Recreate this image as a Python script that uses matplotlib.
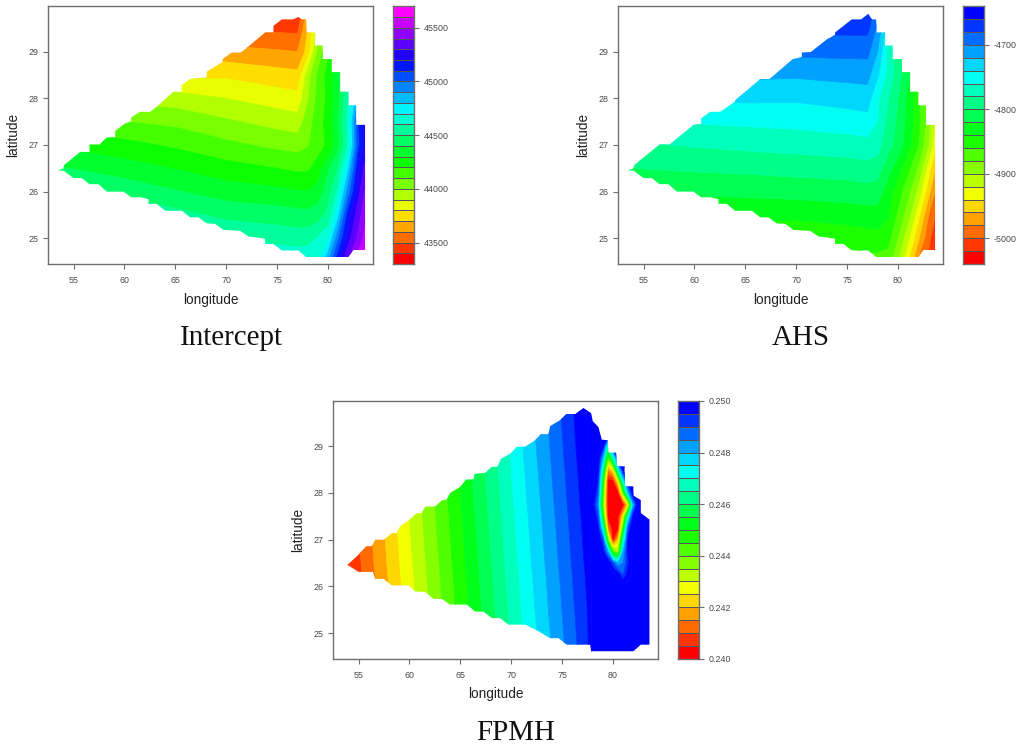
import colorsys
import numpy as np
import matplotlib
matplotlib.use("Agg")
import matplotlib.pyplot as plt
from matplotlib.colors import ListedColormap
from matplotlib.patches import Polygon

plt.rcParams["font.family"] = ["Liberation Sans", "DejaVu Sans"]
plt.rcParams["axes.unicode_minus"] = False

# ---------- data ----------
lat_knots = [24.5, 25, 25.5, 26, 26.5, 27, 27.5, 28, 28.5, 29, 29.5, 30]
lon_knots = [53, 56, 60, 65, 70, 75, 77, 78, 79, 80, 81, 82, 83, 84]

intercept = [
    [44850, 44825, 44800, 44790, 44725, 44685, 44678, 44680, 44690, 44890, 45190, 45410, 45560, 45700],
    [44745, 44720, 44693, 44665, 44600, 44567, 44553, 44560, 44610, 44680, 44980, 45260, 45430, 45600],
    [44635, 44610, 44580, 44536, 44472, 44448, 44433, 44430, 44450, 44530, 44770, 45160, 45360, 45530],
    [44525, 44500, 44466, 44408, 44351, 44326, 44308, 44305, 44342, 44453, 44620, 44950, 45270, 45480],
    [44412, 44388, 44347, 44296, 44240, 44200, 44179, 44185, 44240, 44380, 44500, 44785, 45200, 45400],
    [44290, 44264, 44231, 44183, 44124, 44074, 44061, 44090, 44155, 44220, 44367, 44610, 45075, 45300],
    [44165, 44140, 44100, 44074, 44015, 43960, 43942, 44050, 44150, 44240, 44400, 44630, 45100, 45330],
    [44040, 44010, 43960, 43945, 43900, 43851, 43833, 43985, 44128, 44225, 44360, 44600, 44900, 45200],
    [43900, 43880, 43820, 43770, 43781, 43741, 43728, 43950, 44115, 44240, 44370, 44550, 44800, 45100],
    [43780, 43760, 43700, 43640, 43635, 43611, 43600, 43740, 44020, 44170, 44300, 44500, 44700, 45000],
    [43640, 43620, 43580, 43500, 43490, 43476, 43470, 43700, 43920, 44100, 44250, 44400, 44650, 44950],
    [43500, 43480, 43440, 43360, 43350, 43340, 43340, 43640, 43860, 44050, 44200, 44350, 44600, 44900],
]
ahs = [
    [-4880, -4880, -4876, -4875, -4880, -4872, -4867, -4868, -4870, -4900, -4940, -4985, -5005, -5040],
    [-4860, -4860, -4856, -4856, -4860, -4852, -4849, -4848, -4853, -4881, -4916, -4957, -4995, -5020],
    [-4840, -4838, -4837, -4835, -4834, -4831, -4829, -4828, -4838, -4864, -4892, -4933, -4980, -5010],
    [-4820, -4817, -4816, -4815, -4813, -4810, -4808, -4810, -4830, -4851, -4875, -4907, -4953, -4995],
    [-4801, -4799, -4797, -4795, -4792, -4790, -4787, -4790, -4812, -4831, -4855, -4883, -4930, -4975],
    [-4783, -4781, -4778, -4775, -4772, -4769, -4767, -4772, -4792, -4809, -4833, -4860, -4900, -4950],
    [-4765, -4762, -4758, -4756, -4754, -4750, -4747, -4760, -4786, -4804, -4827, -4854, -4892, -4940],
    [-4745, -4742, -4738, -4736, -4737, -4732, -4730, -4757, -4778, -4800, -4826, -4856, -4890, -4930],
    [-4725, -4722, -4718, -4716, -4717, -4714, -4713, -4737, -4765, -4791, -4815, -4845, -4880, -4920],
    [-4705, -4702, -4698, -4696, -4695, -4694, -4694, -4720, -4764, -4795, -4815, -4840, -4870, -4910],
    [-4685, -4682, -4678, -4676, -4675, -4674, -4674, -4705, -4750, -4780, -4800, -4830, -4860, -4900],
    [-4665, -4662, -4658, -4656, -4655, -4655, -4655, -4690, -4735, -4770, -4790, -4820, -4850, -4890],
]

lat_knots_fpmh = [24.5, 25, 25.5, 26, 26.25, 26.5, 26.75, 27, 27.25, 27.5, 27.75, 28,
                  28.25, 28.5, 28.75, 29, 29.25, 29.5, 30]
lon_knots_fpmh = [53, 55, 60, 65, 70, 75, 77.5, 78, 78.5, 79, 79.5, 80, 80.5, 81, 81.5, 82, 82.5, 84]
fpmh = [
    [.23988, .24064, .24262, .24455, .24649, .24838, .24938, .2502, .2502, .2502, .2502, .2502, .2502, .2502, .2502, .2502, .2502, .2502],
    [.23994, .24070, .24268, .24461, .24655, .24844, .24944, .2502, .2502, .2502, .2502, .2502, .2502, .2502, .2502, .2502, .2502, .2502],
    [.24001, .24077, .24275, .24468, .24662, .24851, .24951, .2502, .2502, .2502, .2502, .2502, .2502, .2502, .2502, .2502, .2502, .2502],
    [.24007, .24083, .24281, .24474, .24668, .24857, .24957, .2502, .2502, .2502, .2502, .2502, .2502, .2502, .2502, .2502, .2502, .2502],
    [.24010, .24086, .24284, .24477, .24671, .24860, .24960, .2502, .2502, .2502, .2502, .2502, .2498, .2490, .2498, .2502, .2502, .2502],
    [.24014, .24090, .24288, .24481, .24675, .24864, .24964, .2502, .2502, .2502, .2502, .2490, .2480, .2485, .2495, .2502, .2502, .2502],
    [.24017, .24093, .24291, .24484, .24678, .24867, .24967, .2502, .2502, .2498, .2480, .2440, .2435, .2480, .2498, .2502, .2502, .2502],
    [.24020, .24096, .24294, .24487, .24681, .24870, .24970, .2502, .2502, .2490, .2440, .2403, .2420, .2465, .2497, .2502, .2502, .2502],
    [.24023, .24099, .24297, .24490, .24684, .24873, .24973, .2502, .2498, .2470, .2415, .2400, .2403, .2445, .2490, .2502, .2502, .2502],
    [.24026, .24102, .24300, .24493, .24687, .24876, .24976, .2502, .2492, .2450, .2402, .2400, .2402, .2425, .2470, .2498, .2502, .2502],
    [.24030, .24106, .24304, .24497, .24691, .24880, .24980, .2498, .2485, .2440, .2400, .2400, .2400, .2402, .2425, .2480, .2502, .2502],
    [.24033, .24109, .24307, .24500, .24694, .24883, .24983, .2502, .2490, .2445, .2400, .2400, .2402, .2440, .2480, .2502, .2502, .2502],
    [.24036, .24112, .24310, .24503, .24697, .24886, .24986, .2502, .2495, .2450, .2402, .2402, .2425, .2470, .2498, .2502, .2502, .2502],
    [.24039, .24115, .24313, .24506, .24700, .24889, .24989, .2502, .2498, .2465, .2415, .2425, .2470, .2498, .2502, .2502, .2502, .2502],
    [.24043, .24119, .24317, .24510, .24704, .24893, .24993, .2502, .2502, .2480, .2440, .2465, .2495, .2502, .2502, .2502, .2502, .2502],
    [.24046, .24122, .24320, .24513, .24707, .24896, .24996, .2502, .2502, .2498, .2465, .2495, .2502, .2502, .2502, .2502, .2502, .2502],
    [.24049, .24125, .24323, .24516, .24710, .24899, .24999, .2502, .2502, .2502, .2502, .2502, .2502, .2502, .2502, .2502, .2502, .2502],
    [.24052, .24128, .24326, .24519, .24713, .24902, .25002, .2502, .2502, .2502, .2502, .2502, .2502, .2502, .2502, .2502, .2502, .2502],
    [.24059, .24135, .24333, .24526, .24720, .24909, .25009, .2502, .2502, .2502, .2502, .2502, .2502, .2502, .2502, .2502, .2502, .2502],
]

# Study-area outline (right side and southern edge shared by the first two maps)
shared_lon = [77.91, 78.73, 78.73, 79.48, 79.48, 80.37, 80.37, 81.19, 81.19, 82.0, 82.0, 82.76, 82.76, 83.64, 83.64,
              82.5, 82.0, 77.85, 77.09, 75.46, 74.64, 73.82, 73.82, 73.0, 72.19, 71.37, 69.73, 68.91, 68.09, 67.27,
              66.46, 65.64, 64.0, 63.18, 62.37, 62.37, 61.55, 60.66, 59.91, 58.27, 57.45, 56.57, 55.82, 55.0, 54.02]
shared_lat = [29.41, 29.41, 29.13, 29.13, 28.84, 28.84, 28.56, 28.56, 28.14, 28.14, 27.85, 27.85, 27.43, 27.43, 24.75,
              24.75, 24.6, 24.6, 24.74, 24.74, 24.88, 24.88, 24.99, 25.02, 25.04, 25.16, 25.18, 25.31, 25.32, 25.45,
              25.45, 25.59, 25.59, 25.74, 25.74, 25.84, 25.88, 25.88, 26.0, 26.0, 26.16, 26.16, 26.29, 26.29, 26.45]

north_lon_1 = [53.43, 54.02, 54.08, 55.65, 56.57, 56.57, 57.55, 58.27, 59.09, 59.09, 59.98, 60.66, 60.66, 61.55,
               62.53, 63.18, 64.82, 65.61, 65.61, 66.46, 68.09, 68.09, 69.66, 69.66, 70.55, 71.43, 72.19, 73.82,
               74.64, 74.64, 75.46, 76.54, 77.09, 77.42, 77.85]
north_lat_1 = [26.45, 26.5, 26.57, 26.85, 26.85, 27.01, 27.01, 27.16, 27.16, 27.3, 27.45, 27.51, 27.59, 27.71,
               27.71, 27.82, 28.14, 28.14, 28.28, 28.41, 28.45, 28.57, 28.78, 28.84, 28.98, 28.98, 29.11, 29.41,
               29.41, 29.55, 29.69, 29.69, 29.74, 29.69, 29.69]
north_lon_2 = [53.43, 54.02, 54.08, 56.57, 57.55, 59.91, 60.66, 60.66, 61.55, 62.53, 64.0, 64.0, 66.46, 67.37,
               69.66, 70.55, 70.55, 71.43, 73.0, 73.82, 73.82, 75.46, 76.37, 77.09, 77.42, 77.85]
north_lat_2 = [26.45, 26.5, 26.57, 27.01, 27.01, 27.43, 27.45, 27.57, 27.71, 27.71, 27.93, 27.96, 28.41, 28.41,
               28.84, 28.88, 28.98, 28.99, 29.26, 29.36, 29.41, 29.69, 29.69, 29.81, 29.69, 29.69]

outline_lon_3 = [53.92, 55.0, 55.75, 56.31, 56.64, 57.52, 58.27, 58.76, 59.09, 59.91, 60.73, 61.22, 61.55, 62.53,
                 63.18, 63.67, 64.0, 64.98, 65.57, 66.29, 66.39, 67.44, 68.09, 68.65, 68.98, 69.89, 70.55, 71.37,
                 72.35, 72.9, 73.66, 73.82, 74.8, 75.39, 76.28, 77.09, 77.85, 78.01, 78.57, 78.9, 79.45, 79.55,
                 80.3, 80.37, 81.12, 81.19, 82.0, 82.0, 82.73, 82.73, 83.58, 83.58, 82.73, 82.0, 77.85, 77.75,
                 75.46, 74.64, 73.82, 72.5, 71.37, 69.73, 68.91, 68.09, 67.27, 66.46, 65.64, 64.0, 63.18, 62.37,
                 61.55, 60.57, 59.91, 58.27, 57.45, 56.64, 56.41, 55.0]
outline_lat_3 = [26.46, 26.68, 26.86, 26.86, 27.0, 27.0, 27.14, 27.14, 27.29, 27.41, 27.57, 27.57, 27.71, 27.71,
                 27.84, 27.86, 28.0, 28.13, 28.29, 28.29, 28.41, 28.43, 28.56, 28.56, 28.73, 28.84, 28.99, 28.99,
                 29.13, 29.26, 29.26, 29.43, 29.56, 29.69, 29.69, 29.82, 29.71, 29.54, 29.41, 29.14, 29.13, 28.86,
                 28.86, 28.57, 28.57, 28.14, 28.14, 27.94, 27.85, 27.57, 27.43, 24.75, 24.75, 24.61, 24.61, 24.75,
                 24.75, 24.89, 24.89, 25.06, 25.18, 25.18, 25.32, 25.32, 25.46, 25.46, 25.61, 25.61, 25.73, 25.73,
                 25.88, 25.89, 26.02, 26.02, 26.16, 26.16, 26.31, 26.31]

x_ticks = [55, 60, 65, 70, 75, 80]
y_ticks = [25, 26, 27, 28, 29]

levels_1 = np.arange(43300, 45701, 100)
ticks_1 = [43500, 44000, 44500, 45000, 45500]
labels_1 = ["43500", "44000", "44500", "45000", "45500"]
levels_2 = np.arange(-5040, -4639, 20)
ticks_2 = [-5000, -4900, -4800, -4700]
labels_2 = ["-5000", "-4900", "-4800", "-4700"]
levels_3 = np.linspace(0.240, 0.250, 21)
ticks_3 = [0.240, 0.242, 0.244, 0.246, 0.248, 0.250]
labels_3 = ["0.240", "0.242", "0.244", "0.246", "0.248", "0.250"]

captions = ["Intercept", "AHS", "FPMH"]

# ---------- layout helpers ----------
W, H = 1019, 750
AXIS = "#6e6e6e"
TICKTXT = "#4a4a4a"


def px_axes(fig, left, top, right, bottom):
    return fig.add_axes([left / W, 1 - bottom / H, (right - left) / W, (bottom - top) / H])


def rainbow(n, end):
    return [colorsys.hsv_to_rgb(i / (n - 1) * end, 1, 1) for i in range(n)]


def style_spines(ax):
    for s in ax.spines.values():
        s.set_color(AXIS)
        s.set_linewidth(1.0)


def panel(fig, box, key_box, lons, lats, z, levels, end, o_lon, o_lat, ticks, labels):
    ax = px_axes(fig, *box)
    colors = rainbow(len(levels) - 1, end)
    cs = ax.contourf(lons, lats, np.array(z, dtype=float), levels=levels,
                     colors=[colors[0]] + colors + [colors[-1]], extend="both", antialiased=True)
    cs.set_edgecolor("face")
    cs.set_linewidth(0.5)
    clip = Polygon(np.column_stack([o_lon, o_lat]), closed=True, transform=ax.transData,
                   facecolor="none", edgecolor="none")
    ax.add_patch(clip)
    cs.set_clip_path(clip)
    ax.set_xlim(52.52, 84.45)
    ax.set_ylim(24.45, 29.97)
    ax.set_xticks(x_ticks)
    ax.set_yticks(y_ticks)
    ax.tick_params(length=3.6, width=0.8, color=AXIS, labelcolor=TICKTXT, labelsize=6.4, pad=3.5)
    ax.tick_params(axis="x", pad=5)
    ax.set_xlabel("longitude", fontsize=9.8, color="#222222", labelpad=5.5)
    ax.set_ylabel("latitude", fontsize=9.8, color="#222222", labelpad=6)
    style_spines(ax)

    key = px_axes(fig, *key_box)
    key.pcolormesh([0, 1], levels, np.arange(len(levels) - 1)[:, None],
                   cmap=ListedColormap(colors), edgecolors="#555555", linewidth=0.5)
    key.set_xlim(0, 1)
    key.set_ylim(levels[0], levels[-1])
    key.set_xticks([])
    key.yaxis.tick_right()
    key.set_yticks(ticks)
    key.set_yticklabels(labels)
    key.tick_params(length=3.6, width=0.8, color=AXIS, labelcolor=TICKTXT, labelsize=6.4, pad=3.5)
    style_spines(key)


fig = plt.figure(figsize=(W / 100, H / 100), dpi=100, facecolor="white")

panel(fig, (48.3, 6.3, 373.3, 264), (393.3, 6.3, 414, 264), lon_knots, lat_knots, intercept,
      levels_1, 5 / 6, north_lon_1 + shared_lon, north_lat_1 + shared_lat, ticks_1, labels_1)
panel(fig, (618.3, 6.3, 943.3, 264), (963.3, 6.3, 984, 264), lon_knots, lat_knots, ahs,
      levels_2, 2 / 3, north_lon_2 + shared_lon, north_lat_2 + shared_lat, ticks_2, labels_2)
panel(fig, (333.3, 401, 658.3, 658.7), (678.3, 401, 699, 658.7), lon_knots_fpmh, lat_knots_fpmh, fpmh,
      levels_3, 2 / 3, outline_lon_3, outline_lat_3, ticks_3, labels_3)

for txt, cx, cy in zip(captions, [231, 801, 516], [338, 338, 733]):
    fig.text(cx / W, 1 - cy / H, txt, family="Liberation Serif", fontsize=20.9,
             color="#111111", ha="center", va="center")

fig.savefig("out.png", dpi=100, facecolor="white")
